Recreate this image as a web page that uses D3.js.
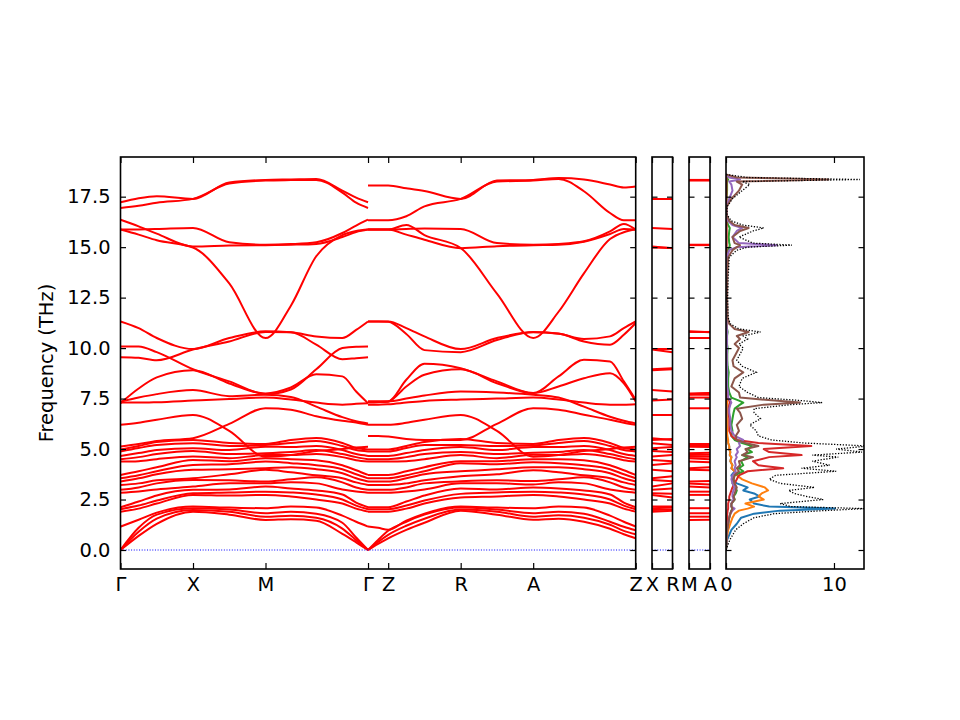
<!DOCTYPE html>
<html><head><meta charset="utf-8">
<script src="https://cdn.jsdelivr.net/npm/d3@7"></script>
<style>body{margin:0;background:#fff}</style>
</head><body><svg id="c" width="960" height="720"></svg>
<script>
// ---------------- DATA ----------------
const pathLabels = ["Γ","X","M","Γ","Z","R","A","Z"];
const pathTicks = [0, 1, 2, 3.414, 3.692, 4.692, 5.692, 7.106];
const yTicks = [0, 2.5, 5, 7.5, 10, 12.5, 15, 17.5];
const xrLabels = ["X","R"];
const maLabels = ["M","A"];
const dosTicks = [0, 10];

// k-points of the Γ-X-M-Γ part and of the Γ-Z-R-A-Z part
const kLeft = [0, 0.25, 0.5, 1, 1.5, 2, 2.35, 2.7, 3.06, 3.25, 3.414];
const kRight = [3.414, 3.553, 3.692, 3.942, 4.192, 4.692, 5.192, 5.692, 6.042, 6.392, 6.752, 6.942, 7.106];

// frequencies (THz) of each band at kLeft
const bandsLeft = [
 [17.22,17.42,17.52,17.39,18.2,18.33,18.35,18.37,17.8,17.45,17.22],
 [16.94,17.05,17.2,17.39,18.15,18.3,18.32,18.33,17.7,17.2,16.94],
 [15.87,15.88,15.9,15.95,15.24,15.12,15.15,15.24,15.7,16.07,16.36],
 [16.36,16.03,15.67,15.03,15.08,15.1,15.12,15.16,15.5,15.75,15.87],
 [15.87,15.62,15.34,14.98,13.2,10.5,12.1,14.55,15.6,15.8,15.87],
 [11.32,10.99,10.5,9.95,10.5,10.83,10.78,10.58,10.5,10.9,11.32],
 [10.08,10.08,9.8,8.95,8.35,7.72,7.95,8.95,10.0,10.07,10.08],
 [9.55,9.52,9.4,9.93,10.33,10.8,10.78,10.17,9.45,9.5,9.55],
 [7.35,7.55,7.72,7.92,7.62,7.69,7.58,7.1,6.58,6.38,6.27],
 [7.3,7.3,7.32,7.4,7.48,7.55,7.45,7.3,7.2,7.24,7.27],
 [7.27,8.0,8.55,8.9,8.25,7.75,8.05,8.7,8.6,7.85,7.27],
 [6.2,6.3,6.45,6.69,5.9,4.62,4.7,4.9,5.0,5.08,5.12],
 [5.12,5.25,5.4,5.54,6.25,7.02,6.95,6.62,6.4,6.32,6.2],
 [1.16,1.5,1.85,2.15,2.1,2.07,2.15,2.1,1.7,1.4,1.16],
 [1.9,2.05,2.3,2.73,2.7,2.73,2.65,2.5,2.3,2.05,1.9],
 [2.02,2.2,2.45,2.81,2.85,2.89,2.85,2.75,2.5,2.2,2.02],
 [2.12,2.4,2.7,2.98,3.0,3.14,3.05,2.95,2.75,2.35,2.12],
 [2.84,2.9,3.0,3.14,3.3,3.3,3.35,3.3,3.0,2.9,2.84],
 [2.98,3.1,3.3,3.47,3.45,3.39,3.5,3.6,3.35,3.1,2.98],
 [3.22,3.3,3.45,3.55,3.75,3.97,3.85,3.7,3.55,3.35,3.22],
 [3.39,3.55,3.75,3.97,4.0,4.05,4.1,4.0,3.8,3.55,3.39],
 [3.55,3.7,3.9,4.21,4.25,4.38,4.3,4.2,4.0,3.75,3.55],
 [3.72,3.9,4.1,4.46,4.4,4.55,4.5,4.45,4.2,3.95,3.72],
 [4.38,4.4,4.5,4.63,4.55,4.7,4.7,4.75,4.6,4.45,4.38],
 [4.5,4.6,4.75,4.9,4.75,4.79,4.85,4.95,4.75,4.6,4.5],
 [4.66,4.8,4.95,5.04,4.95,5.12,5.1,5.15,4.95,4.75,4.66],
 [4.88,5.05,5.2,5.29,5.15,5.2,5.3,5.4,5.15,4.95,4.88],
 [4.98,5.15,5.35,5.45,5.3,5.25,5.45,5.55,5.3,5.05,4.98],
 [0,0.7,1.3,1.9,1.75,1.49,1.52,1.45,0.8,0.38,0],
 [0,0.9,1.55,1.98,1.9,1.65,1.7,1.6,1.06,0.49,0],
 [0,1.1,1.75,2.07,2.0,1.82,1.9,1.8,1.35,0.62,0]
];

// frequencies (THz) of each band at kRight
const bandsRight = [
 [18.05,18.05,18.05,17.92,17.78,17.39,18.3,18.33,18.42,18.35,18.1,17.95,18.0],
 [16.33,16.33,16.33,16.53,17.02,17.39,18.25,18.3,18.38,17.77,16.69,16.33,16.33],
 [15.87,15.87,15.87,15.9,15.92,15.9,15.2,15.12,15.16,15.29,15.78,16.15,15.87],
 [15.87,15.87,15.87,15.62,15.37,14.95,15.05,15.1,15.12,15.27,15.65,15.9,15.87],
 [15.87,15.87,15.87,16.1,15.6,14.96,12.7,10.5,11.8,13.7,15.4,15.74,15.87],
 [11.32,11.32,11.32,10.99,10.58,9.95,10.5,10.78,10.71,10.45,10.58,10.99,11.32],
 [7.35,7.35,7.36,8.43,9.22,9.0,8.35,7.77,8.6,9.42,9.34,8.35,7.44],
 [11.32,11.32,11.3,10.7,9.9,9.8,10.4,10.8,10.72,10.33,10.17,10.66,11.24],
 [7.36,7.36,7.36,7.5,7.65,7.85,7.8,7.69,7.55,7.1,6.6,6.4,6.27],
 [7.2,7.2,7.22,7.3,7.38,7.45,7.5,7.55,7.45,7.3,7.2,7.2,7.22],
 [7.3,7.32,7.36,8.1,8.68,8.95,8.26,7.77,8.1,8.51,8.76,8.26,7.36],
 [6.2,6.2,6.2,6.3,6.45,6.69,5.9,4.62,4.7,4.9,5.0,5.08,5.12],
 [5.65,5.65,5.62,5.5,5.45,5.45,6.25,7.02,6.95,6.7,6.45,6.3,6.2],
 [1.16,1.1,1.0,1.45,1.8,2.15,2.1,2.07,2.15,2.1,1.7,1.4,1.16],
 [1.9,1.9,1.9,2.05,2.3,2.6,2.65,2.73,2.65,2.5,2.3,2.05,1.9],
 [2.02,2.02,2.02,2.2,2.45,2.78,2.85,2.89,2.85,2.75,2.5,2.2,2.02],
 [2.12,2.12,2.12,2.4,2.7,3.05,3.0,3.1,3.05,2.95,2.75,2.35,2.12],
 [2.84,2.84,2.84,2.9,3.0,3.3,3.3,3.25,3.35,3.3,3.0,2.9,2.84],
 [2.98,2.98,2.98,3.1,3.3,3.4,3.45,3.42,3.5,3.6,3.35,3.1,2.98],
 [3.22,3.22,3.22,3.3,3.45,3.65,3.75,3.95,3.85,3.7,3.55,3.35,3.22],
 [3.39,3.39,3.39,3.55,3.75,3.9,4.0,4.1,4.1,4.0,3.8,3.55,3.39],
 [3.55,3.55,3.55,3.7,3.9,4.3,4.25,4.35,4.3,4.2,4.0,3.75,3.55],
 [3.72,3.72,3.72,3.9,4.1,4.4,4.4,4.5,4.5,4.45,4.2,3.95,3.72],
 [4.38,4.38,4.38,4.4,4.5,4.7,4.55,4.72,4.7,4.75,4.6,4.45,4.38],
 [4.5,4.5,4.5,4.6,4.75,4.85,4.75,4.82,4.85,4.95,4.75,4.6,4.5],
 [4.66,4.66,4.66,4.8,4.95,5.1,4.95,5.1,5.1,5.15,4.95,4.75,4.66],
 [4.88,4.88,4.88,5.05,5.2,5.2,5.15,5.18,5.3,5.4,5.15,4.95,4.88],
 [4.98,4.98,4.98,5.15,5.35,5.5,5.3,5.25,5.45,5.55,5.3,5.05,4.98],
 [0,0.3,0.58,1.0,1.35,1.95,1.75,1.5,1.55,1.4,1.05,0.78,0.58],
 [0,0.4,0.75,1.2,1.55,2.0,1.9,1.65,1.72,1.6,1.25,0.95,0.78],
 [0,0.5,0.95,1.4,1.75,2.1,2.0,1.82,1.9,1.8,1.4,1.15,0.98]
];

// density of states
const dosFreq = [0,0.5,1.0,1.3,1.6,1.8,1.95,2.05,2.15,2.3,
 2.5,2.65,2.8,2.95,3.1,3.3,3.5,3.7,3.9,4.05,
 4.2,4.4,4.6,4.7,4.85,5.0,5.15,5.3,5.45,5.65,
 5.9,6.2,6.5,6.8,7.0,7.2,7.3,7.4,7.55,7.8,
 8.1,8.5,8.8,9.1,9.4,9.7,10.0,10.2,10.45,10.6,
 10.8,10.95,11.2,11.5,12.5,13.5,14.5,14.85,15.0,15.1,
 15.2,15.5,15.8,15.95,16.1,16.3,16.6,17.0,17.4,17.8,
 18.1,18.25,18.35,18.45,18.6];
const dosTotal = [0,0.35,0.9,1.6,2.6,4.5,9.0,12.9,6.0,5.0,
 9.0,7.5,6.3,5.8,8.2,5.0,4.0,4.6,10.2,7.0,
 9.6,8.0,10.4,8.0,12.6,10.2,13.2,7.2,4.2,3.0,
 2.8,2.2,3.2,2.6,2.6,6.0,8.9,7.0,3.0,2.0,
 1.2,1.5,2.8,1.5,1.0,1.3,1.6,1.2,2.0,1.6,
 3.2,1.2,0.4,0.2,0.15,0.2,0.3,1.0,2.0,6.1,
 2.5,1.2,2.5,3.5,1.5,0.5,0.1,0.1,0.6,1.5,
 2.2,1.5,12.4,2.0,0];
const dosBlue = [0,0.1,0.5,1.0,1.4,2.6,5.0,10.1,4.0,2.6,
 2.2,3.1,2.6,1.6,2.0,1.0,0.6,0.5,0.8,0.5,
 0.6,0.4,0.5,0.35,0.4,0.3,0.3,0.2,0.12,0.1,
 0.08,0.06,0.06,0.05,0.05,0.06,0.08,0.06,0.04,0.03,
 0.02,0.02,0.02,0.02,0.02,0.02,0.02,0.02,0.02,0.02,
 0.02,0.02,0.02,0.02,0.02,0.02,0.02,0.02,0.02,0.02,
 0.02,0.02,0.02,0.02,0.02,0.02,0.02,0.02,0.02,0.02,
 0.02,0.02,0.02,0.02,0];
const dosOrange = [0,0.05,0.2,0.4,0.6,0.8,1.2,2.0,2.6,1.8,
 3.5,3.0,3.3,3.9,3.6,2.4,1.5,1.0,0.8,0.5,
 0.6,0.4,0.5,0.35,0.4,0.3,0.3,0.2,0.2,0.12,
 0.1,0.08,0.08,0.06,0.06,0.08,0.1,0.08,0.05,0.04,
 0.02,0.02,0.02,0.02,0.02,0.02,0.02,0.02,0.02,0.02,
 0.02,0.02,0.02,0.02,0.02,0.02,0.02,0.02,0.02,0.02,
 0.02,0.02,0.02,0.02,0.02,0.02,0.02,0.02,0.02,0.02,
 0.02,0.02,0.02,0.02,0];
const dosGreen = [0,0.05,0.1,0.2,0.3,0.4,0.5,0.6,0.5,0.5,
 0.8,0.7,0.9,1.0,0.8,0.6,0.7,0.8,1.6,1.2,
 1.6,1.4,2.0,1.5,2.4,2.0,2.4,1.5,0.8,0.5,
 0.6,0.5,0.6,0.7,0.8,1.3,1.6,1.2,0.5,0.3,
 0.2,0.2,0.25,0.15,0.12,0.12,0.15,0.1,0.1,0.1,
 0.15,0.1,0.05,0.03,0.03,0.03,0.05,0.15,0.3,0.35,
 0.3,0.25,0.3,0.35,0.2,0.05,0.02,0.02,0.05,0.1,
 0.1,0.1,0.2,0.05,0];
const dosRed = [0,0.02,0.05,0.08,0.1,0.12,0.15,0.2,0.2,0.2,
 0.3,0.3,0.4,0.5,0.6,0.8,1.0,1.2,2.0,5.3,
 3.0,2.5,4.0,7.0,4.0,3.5,7.9,3.0,1.0,0.5,
 0.3,0.3,0.3,0.25,0.25,0.3,0.35,0.3,0.15,0.1,
 0.05,0.05,0.05,0.05,0.05,0.05,0.05,0.05,0.05,0.05,
 0.05,0.05,0.04,0.03,0.03,0.03,0.03,0.04,0.05,0.05,
 0.05,0.05,0.05,0.05,0.05,0.04,0.03,0.03,0.03,0.04,
 0.04,0.04,0.05,0.03,0];
const dosPurple = [0,0.05,0.1,0.2,0.3,0.4,0.6,0.8,0.5,0.5,
 0.7,0.6,0.6,0.7,0.8,0.6,0.5,0.6,0.9,0.8,
 0.9,0.8,1.0,0.9,1.1,1.0,1.3,1.2,1.6,0.8,
 0.5,0.4,0.4,0.3,0.3,0.4,0.5,0.4,0.2,0.2,
 0.1,0.1,0.12,0.1,0.08,0.08,0.1,0.08,0.1,0.08,
 0.12,0.08,0.05,0.05,0.05,0.05,0.08,0.3,1.0,4.7,
 1.2,0.6,1.0,1.5,0.6,0.2,0.05,0.05,0.3,0.6,
 0.5,0.3,1.3,0.3,0];
const dosBrown = [0,0.05,0.1,0.2,0.3,0.4,0.5,0.6,0.5,0.5,
 0.8,0.7,0.8,0.9,1.0,0.8,0.7,0.8,1.2,1.0,
 1.3,1.2,2.5,1.5,2.0,1.8,3.0,1.8,1.0,0.9,
 1.2,1.0,1.5,1.3,1.0,3.5,6.85,4.5,1.3,1.2,
 0.5,0.8,1.6,0.7,0.6,0.9,1.2,0.8,1.3,1.0,
 2.1,0.8,0.3,0.15,0.1,0.12,0.2,0.6,1.0,1.3,
 0.8,0.6,1.3,2.1,0.8,0.3,0.05,0.05,0.5,1.2,
 1.5,1.0,9.5,1.0,0];
const dosPartials = [dosBlue, dosOrange, dosGreen, dosRed, dosPurple, dosBrown];
const dosColors = ["#1f77b4","#ff7f0e","#2ca02c","#d62728","#9467bd","#8c564b"];

// ---------------- DRAW ----------------
const FONT = '"DejaVu Sans", sans-serif', FS = 19.44;
const svg = d3.select("#c");
svg.append("rect").attr("width",960).attr("height",720).attr("fill","#fff");
const yTop = 157, yBot = 569;
const y = d3.scaleLinear().domain([-0.941, 19.465]).range([yBot, yTop]);
const xMain = d3.scaleLinear().domain([0, 7.106]).range([120.5, 635.7]);
const xXR = d3.scaleLinear().domain([0, 1]).range([652, 672.5]);
const xMA = d3.scaleLinear().domain([0, 1]).range([689, 710]);
const xDos = d3.scaleLinear().domain([0, 12.78]).range([726, 864]);

const defs = svg.append("defs");
function clip(id, xs){
  defs.append("clipPath").attr("id", id).append("rect")
    .attr("x", xs.range()[0]).attr("y", yTop)
    .attr("width", xs.range()[1]-xs.range()[0]).attr("height", yBot-yTop);
}
clip("cm", xMain); clip("cxr", xXR); clip("cma", xMA); clip("cd", xDos);

function zeroLine(xs, cid){
  svg.append("path").attr("clip-path", `url(#${cid})`)
    .attr("d", d3.line().x(d=>xs(d)).y(()=>y(0))(xs.domain()))
    .attr("fill","none").attr("stroke","#0000ff").attr("stroke-width",1)
    .attr("stroke-dasharray","1,1.65");
}

// main band structure
const gMain = svg.append("g").attr("clip-path","url(#cm)");
function drawBands(ks, bands){
  const line = d3.line().x((d,i)=>xMain(ks[i])).y(d=>y(d)).curve(d3.curveMonotoneX);
  gMain.append("g").selectAll("path").data(bands).join("path")
    .attr("d", line).attr("fill","none").attr("stroke","#ff0000")
    .attr("stroke-width",2).attr("stroke-linejoin","round");
}
drawBands(kLeft, bandsLeft);
drawBands(kRight, bandsRight);
zeroLine(xMain, "cm");

// X-R and M-A short panels
function drawPanel(xs, cid, iL, iR){
  const line = d3.line().x((d,i)=>xs(i)).y(d=>y(d));
  const data = bandsLeft.map((b,j)=>[b[iL], bandsRight[j][iR]]);
  svg.append("g").attr("clip-path",`url(#${cid})`).selectAll("path").data(data).join("path")
    .attr("d", line).attr("fill","none").attr("stroke","#ff0000").attr("stroke-width",2);
  zeroLine(xs, cid);
}
drawPanel(xXR, "cxr", 3, 5);
drawPanel(xMA, "cma", 5, 7);

// DOS panel
const gD = svg.append("g").attr("clip-path","url(#cd)");
const dosLine = d3.line().x(d=>xDos(d[0])).y(d=>y(d[1]));
dosPartials.forEach((s,j)=>{
  gD.append("path").attr("d", dosLine(s.map((v,i)=>[v, dosFreq[i]])))
    .attr("fill","none").attr("stroke",dosColors[j]).attr("stroke-width",2)
    .attr("stroke-linejoin","round");
});
gD.append("path").attr("d", dosLine(dosTotal.map((v,i)=>[v, dosFreq[i]])))
  .attr("fill","none").attr("stroke","#000").attr("stroke-width",1.3)
  .attr("stroke-dasharray","1.3,1.6");

// axes
function styleAxis(g){
  g.select(".domain").remove();
  g.attr("font-family", FONT).attr("font-size", FS);
  g.selectAll(".tick line").attr("stroke","#000").attr("stroke-width",1.2);
  g.selectAll("text").attr("fill","#000");
}
function frame(xs, xTicks, xLab, yLabels){
  const [x0,x1] = xs.range();
  const left = svg.append("g").attr("transform",`translate(${x0},0)`)
    .call(d3.axisLeft(y).tickValues(yTicks).tickSize(-5.5).tickPadding(10)
      .tickFormat(yLabels ? d3.format(".1f") : ""));
  styleAxis(left);
  const right = svg.append("g").attr("transform",`translate(${x1},0)`)
    .call(d3.axisRight(y).tickValues(yTicks).tickSize(-5.5).tickFormat(""));
  styleAxis(right);
  const bottom = svg.append("g").attr("transform",`translate(0,${yBot})`)
    .call(d3.axisBottom(xs).tickValues(xTicks).tickSize(-6).tickPadding(8)
      .tickFormat((d,i)=>xLab[i]));
  styleAxis(bottom);
  const top = svg.append("g").attr("transform",`translate(0,${yTop})`)
    .call(d3.axisTop(xs).tickValues(xTicks).tickSize(-6).tickFormat(""));
  styleAxis(top);
  svg.append("rect").attr("x",x0).attr("y",yTop).attr("width",x1-x0).attr("height",yBot-yTop)
    .attr("fill","none").attr("stroke","#000").attr("stroke-width",1.6);
}
frame(xMain, pathTicks, pathLabels, true);
frame(xXR, [0,1], xrLabels, false);
frame(xMA, [0,1], maLabels, false);
frame(xDos, dosTicks, dosTicks.map(String), false);

svg.append("text").attr("transform","translate(53,363) rotate(-90)")
  .attr("text-anchor","middle").attr("font-family",FONT).attr("font-size",FS)
  .attr("fill","#000").text("Frequency (THz)");
</script>
</body></html>
